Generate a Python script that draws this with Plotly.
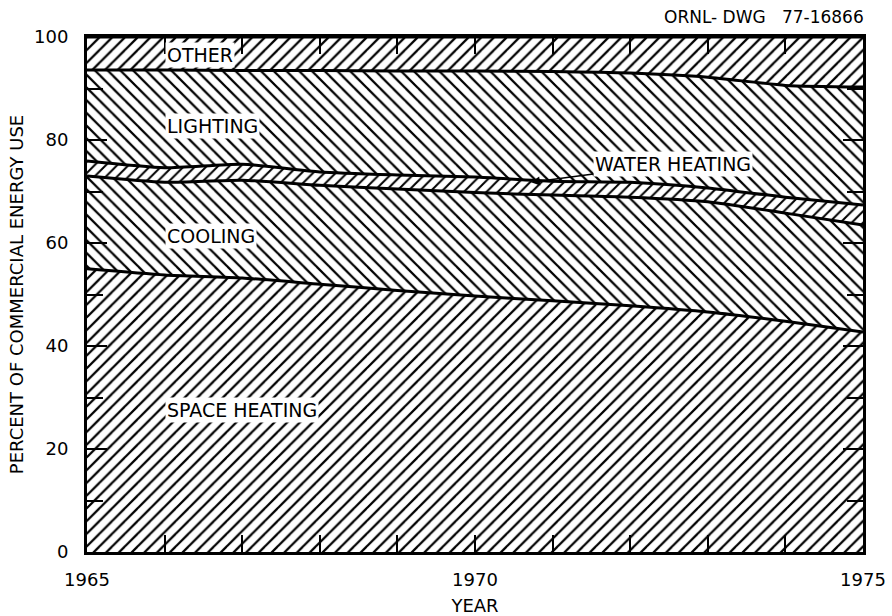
import plotly.graph_objects as go

# Share of commercial-sector energy use by end use, 1965-1975 (percent)
years = list(range(1965, 1976))
space_heating = [55.0, 53.8, 53.2, 52.0, 50.8, 49.7, 48.8, 47.8, 46.6, 44.8, 42.7]
cooling = [18.0, 18.0, 19.0, 19.2, 19.7, 20.1, 20.5, 21.1, 21.4, 21.0, 20.8]
water_heating = [2.9, 2.8, 3.1, 2.6, 2.7, 3.0, 2.7, 2.9, 2.7, 3.1, 3.9]
lighting = [17.7, 19.0, 18.2, 19.7, 20.2, 20.6, 21.3, 21.2, 21.5, 21.7, 22.9]
other = [6.4, 6.4, 6.5, 6.5, 6.6, 6.6, 6.7, 7.0, 7.8, 9.4, 9.7]

y_tick_vals = [0, 20, 40, 60, 80, 100]
y_tick_text = ["0", "20", "40", "60", "80", "100"]
x_tick_vals = [1965, 1970, 1975]
x_tick_text = ["1965", "1970", "1975"]

FONT = "DejaVu Sans"

series = [
    ("SPACE HEATING", space_heating, "/", 9),
    ("COOLING", cooling, "\\", 9),
    ("WATER HEATING", water_heating, "/", 8),
    ("LIGHTING", lighting, "\\", 9),
    ("OTHER", other, "/", 9),
]

fig = go.Figure()
for name, vals, shape, size in series:
    fig.add_trace(go.Scatter(
        x=years, y=vals, name=name, mode="lines",
        stackgroup="uses",
        line=dict(color="black", width=3, shape="spline", smoothing=0.6),
        fillcolor="white",
        fillpattern=dict(shape=shape, size=size, solidity=0.25,
                         fgcolor="black", bgcolor="white", fillmode="replace"),
        hoverinfo="skip",
        showlegend=False,
    ))

label_font = dict(family=FONT, size=19, color="black")
labels = [
    ("OTHER", 96.5),
    ("LIGHTING", 82.7),
    ("COOLING", 61.4),
    ("SPACE HEATING", 27.6),
]
annotations = []
for text, yv in labels:
    annotations.append(dict(
        x=1966.0, y=yv, xref="x", yref="y", text=text, showarrow=False,
        xanchor="left", yanchor="middle", font=label_font,
        bgcolor="white", borderpad=1,
    ))

annotations.append(dict(
    x=1970.72, y=71.8, xref="x", yref="y",
    ax=1972.55, ay=75.4, axref="x", ayref="y",
    text="WATER HEATING", showarrow=True, arrowhead=2, arrowsize=1.2,
    arrowwidth=1.5, arrowcolor="black", font=label_font,
    bgcolor="white", borderpad=1,
))

annotations.append(dict(
    x=1.004, y=1.039, xref="paper", yref="paper",
    text="ORNL- DWG&nbsp;&nbsp;&nbsp;77-16866",
    showarrow=False, xanchor="right", yanchor="middle",
    font=dict(family=FONT, size=17, color="black"),
))

fig.update_layout(
    width=892, height=616,
    margin=dict(l=87, r=29, t=37, b=64),
    paper_bgcolor="white", plot_bgcolor="white",
    font=dict(family=FONT, color="black"),
    annotations=annotations,
    xaxis=dict(
        range=[1965, 1975], tickvals=x_tick_vals, ticktext=x_tick_text,
        ticks="inside", ticklen=17, tickwidth=1.5, tickcolor="black",
        minor=dict(dtick=1, ticks="inside", ticklen=17, tickwidth=1.5, tickcolor="black"),
        showline=True, linewidth=3, linecolor="black", mirror="allticks",
        showgrid=False, zeroline=False, automargin=False,
        tickfont=dict(family=FONT, size=18), ticklabelstandoff=9,
        title=dict(text="YEAR", font=dict(family=FONT, size=18), standoff=14),
    ),
    yaxis=dict(
        range=[0, 100], tickvals=y_tick_vals, ticktext=y_tick_text,
        ticks="inside", ticklen=20, tickwidth=1.5, tickcolor="black",
        minor=dict(dtick=10, ticks="inside", ticklen=16, tickwidth=1.5, tickcolor="black"),
        showline=True, linewidth=3, linecolor="black", mirror="allticks",
        showgrid=False, zeroline=False, automargin=False,
        tickfont=dict(family=FONT, size=18), ticklabelstandoff=12,
        title=dict(text="PERCENT OF COMMERCIAL ENERGY USE",
                   font=dict(family=FONT, size=18), standoff=6),
    ),
)

fig.write_html("out.html")
